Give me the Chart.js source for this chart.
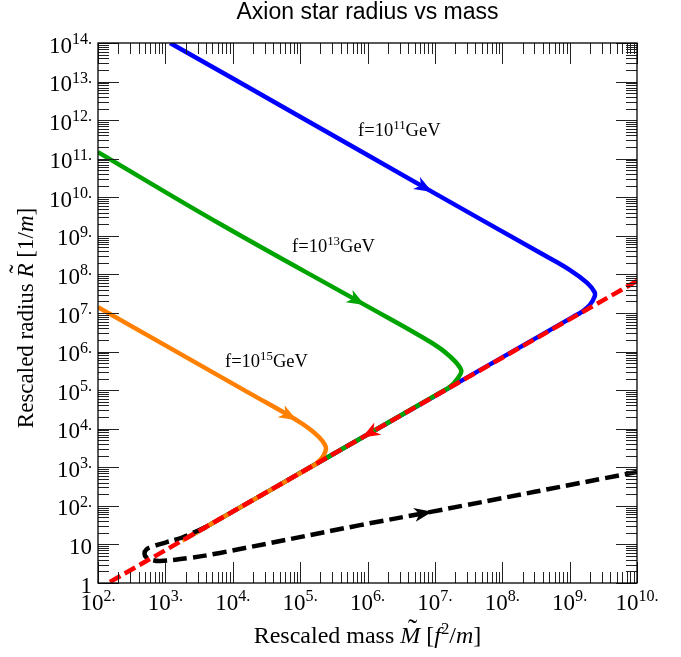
<!DOCTYPE html>
<html>
<head>
<meta charset="utf-8">
<title>Axion star radius vs mass</title>
<script src="https://cdn.jsdelivr.net/npm/chart.js@4.4.1/dist/chart.umd.min.js"></script>
<style>
  html, body { margin: 0; padding: 0; background: #ffffff; }
  #c { display: block; }
</style>
</head>
<body>
<canvas id="c" width="681" height="657"></canvas>
<script>
// all values are log10 of the rescaled mass / radius

// f = 10^11 GeV (blue)
const blueLogM = [3.07, 5.00, 6.96, 8.56, 9.00, 9.26, 9.37, 9.37, 9.30, 9.18, 9.05, 8.00, 7.00, 6.00, 5.00, 4.00, 3.30];
const blueLogR = [14.00, 12.09, 10.14, 8.56, 8.12, 7.78, 7.54, 7.42, 7.21, 7.03, 6.90, 5.85, 4.85, 3.85, 2.85, 1.85, 1.15];

// f = 10^13 GeV (green)
const greenLogM = [2.00, 3.84, 5.96, 6.97, 7.22, 7.39, 7.34, 7.22, 7.07, 6.00, 5.00, 4.00, 3.30];
const greenLogR = [11.17, 9.28, 7.21, 6.21, 5.88, 5.52, 5.31, 5.08, 4.93, 3.85, 2.85, 1.85, 1.15];

// f = 10^15 GeV (orange)
const orangeLogM = [2.00, 4.26, 4.95, 5.22, 5.38, 5.34, 5.24, 5.12, 4.00, 3.25];
const orangeLogR = [7.15, 4.91, 4.22, 3.88, 3.53, 3.28, 3.10, 2.97, 1.85, 1.10];

// dense branch (red dashed)
const redLogM = [10.00, 5.92, 2.15];
const redLogR = [7.83, 3.77, 0.00];

// black dashed loop
const blackLogM = [3.60, 3.25, 3.02, 2.80, 2.72, 2.69, 2.72, 2.80, 2.92, 3.36, 3.81, 5.89, 6.96, 10.00];
const blackLogR = [1.45, 1.18, 1.06, 0.94, 0.87, 0.76, 0.66, 0.60, 0.57, 0.65, 0.78, 1.50, 1.85, 2.88];

// which point of each curve carries the arrow head
const blueArrow = 2;
const greenArrow = 2;
const orangeArrow = 2;
const redArrow = 1;
const blackArrow = 12;

// tick decades
const xTickPowers = [2, 3, 4, 5, 6, 7, 8, 9, 10];
const yTickPowers = [0, 1, 2, 3, 4, 5, 6, 7, 8, 9, 10, 11, 12, 13, 14];

// curve labels: exponent of f, and where the label starts (log10 M, log10 R)
const labelExp = ['11', '13', '15'];
const labelLogM = [5.86, 4.88, 3.885];
const labelLogR = [11.59, 8.58, 5.60];


function toPoints(lm, lr) {
    return lm.map(function(v, i) { return { x: Math.pow(10, v), y: Math.pow(10, lr[i]) }; });
}

function curve(label, lm, lr, color, arrowAt, dash) {
    return {
        label: label,
        data: toPoints(lm, lr),
        showLine: true,
        borderColor: color,
        backgroundColor: color,
        borderWidth: 4.5,
        borderDash: dash || [],
        borderJoinStyle: 'round',
        tension: 0.4,
        pointRadius: 0,
        arrowAt: arrowAt
    };
}


// ---- rich text helpers (italics, superscripts, tilde accents)

const SERIF = '"Liberation Serif", "Times New Roman", serif';

function segFont(s, size) {
    let sz = s.sup ? size * 0.7 : size;
    return (s.it ? 'italic ' : '') + sz.toFixed(1) + 'px ' + SERIF;
}

function richWidth(ctx, segs, size) {
    let w = 0;
    segs.forEach(function(s) {
        ctx.font = segFont(s, size);
        w += ctx.measureText(s.t).width;
    });
    return w;
}

function drawRich(ctx, segs, x, y, align, size) {
    let w = richWidth(ctx, segs, size);
    let cx = align === 'center' ? x - w / 2 : (align === 'right' ? x - w : x);
    ctx.textAlign = 'left';
    ctx.textBaseline = 'alphabetic';
    segs.forEach(function(s) {
        ctx.font = segFont(s, size);
        let sw = ctx.measureText(s.t).width;
        ctx.fillText(s.t, cx, s.sup ? y - size * 0.37 : y);
        if (s.tilde) {
            ctx.font = (size * 1.15).toFixed(1) + 'px ' + SERIF;
            ctx.textAlign = 'center';
            ctx.fillText('\u02DC', cx + sw * 0.62, y - size * 0.22);
            ctx.textAlign = 'left';
        }
        cx += sw;
    });
}

function powLabel(p) {
    if (p === 0) return [{ t: '1' }];
    if (p === 1) return [{ t: '10' }];
    return [{ t: '10' }, { t: p + '.', sup: true }];
}


// ---- frame, ticks, labels and arrow heads

const framePlugin = {
    id: 'frame',

    afterDatasetsDraw: function(chart) {
        const ctx = chart.ctx;
        const xs = chart.scales.x;
        const ys = chart.scales.y;

        // arrow heads
        chart.data.datasets.forEach(function(ds) {
            if (ds.arrowAt === undefined) return;
            const p = ds.data[ds.arrowAt];
            const q = ds.data[ds.arrowAt - 1];
            const tx = xs.getPixelForValue(p.x), ty = ys.getPixelForValue(p.y);
            const bx = xs.getPixelForValue(q.x), by = ys.getPixelForValue(q.y);
            let ux = tx - bx, uy = ty - by;
            const len = Math.hypot(ux, uy);
            ux /= len; uy /= len;
            const nx = -uy, ny = ux;
            const L = 18, W = 7, N = 5;
            ctx.save();
            ctx.fillStyle = ds.borderColor;
            ctx.beginPath();
            ctx.moveTo(tx, ty);
            ctx.lineTo(tx - L * ux + W * nx, ty - L * uy + W * ny);
            ctx.lineTo(tx - (L - N) * ux, ty - (L - N) * uy);
            ctx.lineTo(tx - L * ux - W * nx, ty - L * uy - W * ny);
            ctx.closePath();
            ctx.fill();
            ctx.restore();
        });
    },

    afterDraw: function(chart) {
        const ctx = chart.ctx;
        const a = chart.chartArea;
        const xs = chart.scales.x;
        const ys = chart.scales.y;

        ctx.save();

        // tick marks on all four sides, pointing inward
        ctx.strokeStyle = '#222';
        ctx.lineWidth = 1;
        ctx.beginPath();
        for (let i = 0; i < xTickPowers.length; i++) {
            const p = xTickPowers[i];
            const ks = i < xTickPowers.length - 1 ? [1, 2, 3, 4, 5, 6, 7, 8, 9] : [1];
            ks.forEach(function(k) {
                const px = Math.round(xs.getPixelForValue(k * Math.pow(10, p))) + 0.5;
                const len = k === 1 ? 21 : 11;
                ctx.moveTo(px, a.bottom); ctx.lineTo(px, a.bottom - len);
                ctx.moveTo(px, a.top); ctx.lineTo(px, a.top + len);
            });
        }
        for (let i = 0; i < yTickPowers.length; i++) {
            const p = yTickPowers[i];
            const ks = i < yTickPowers.length - 1 ? [1, 2, 3, 4, 5, 6, 7, 8, 9] : [1];
            ks.forEach(function(k) {
                const py = Math.round(ys.getPixelForValue(k * Math.pow(10, p))) + 0.5;
                const len = k === 1 ? 21 : 11;
                ctx.moveTo(a.left, py); ctx.lineTo(a.left + len, py);
                ctx.moveTo(a.right, py); ctx.lineTo(a.right - len, py);
            });
        }
        ctx.stroke();

        // frame
        ctx.strokeStyle = '#000';
        ctx.lineWidth = 1.3;
        ctx.strokeRect(a.left, a.top, a.right - a.left, a.bottom - a.top);

        // tick labels
        ctx.fillStyle = '#000';
        xTickPowers.forEach(function(p) {
            drawRich(ctx, powLabel(p), xs.getPixelForValue(Math.pow(10, p)), a.bottom + 27, 'center', 23);
        });
        yTickPowers.forEach(function(p) {
            drawRich(ctx, powLabel(p), a.left - 6, ys.getPixelForValue(Math.pow(10, p)) + 9.5, 'right', 23);
        });

        // axis titles
        const xTitle = [
            { t: 'Rescaled mass ' }, { t: 'M', it: true, tilde: true }, { t: ' [' },
            { t: 'f', it: true }, { t: '2', sup: true }, { t: '/' }, { t: 'm', it: true }, { t: ']' }
        ];
        drawRich(ctx, xTitle, (a.left + a.right) / 2, a.bottom + 60, 'center', 24);

        const yTitle = [
            { t: 'Rescaled radius ' }, { t: 'R', it: true, tilde: true }, { t: ' [1/' },
            { t: 'm', it: true }, { t: ']' }
        ];
        ctx.save();
        ctx.translate(a.left - 65, (a.top + a.bottom) / 2 + 5);
        ctx.rotate(-Math.PI / 2);
        drawRich(ctx, yTitle, 0, 0, 'center', 23);
        ctx.restore();

        // curve labels
        labelExp.forEach(function(e, i) {
            const lx = xs.getPixelForValue(Math.pow(10, labelLogM[i]));
            const ly = ys.getPixelForValue(Math.pow(10, labelLogR[i]));
            drawRich(ctx, [{ t: 'f=10' }, { t: e, sup: true }, { t: 'GeV' }], lx, ly, 'left', 18.5);
        });

        // title
        ctx.font = '23px "Liberation Sans", Arial, sans-serif';
        ctx.textAlign = 'center';
        ctx.textBaseline = 'alphabetic';
        ctx.fillText('Axion star radius vs mass', (a.left + a.right) / 2, 19);

        ctx.restore();
    }
};


new Chart(document.getElementById('c'), {
    type: 'scatter',
    data: {
        datasets: [
            curve('dense branch', redLogM, redLogR, '#ff0000', redArrow, [12, 5]),
            curve('loop', blackLogM, blackLogR, '#000000', blackArrow, [14, 6]),
            curve('f=1e15 GeV', orangeLogM, orangeLogR, '#ff8000', orangeArrow),
            curve('f=1e13 GeV', greenLogM, greenLogR, '#00a400', greenArrow),
            curve('f=1e11 GeV', blueLogM, blueLogR, '#0000ff', blueArrow)
        ]
    },
    options: {
        responsive: false,
        animation: false,
        layout: {
            padding: { left: 98, right: 44, top: 43, bottom: 74 }
        },
        plugins: {
            legend: { display: false },
            tooltip: { enabled: false }
        },
        scales: {
            x: { type: 'logarithmic', min: 1e2, max: 1e10, display: false },
            y: { type: 'logarithmic', min: 1, max: 1e14, display: false }
        }
    },
    plugins: [framePlugin]
});
</script>
</body>
</html>
